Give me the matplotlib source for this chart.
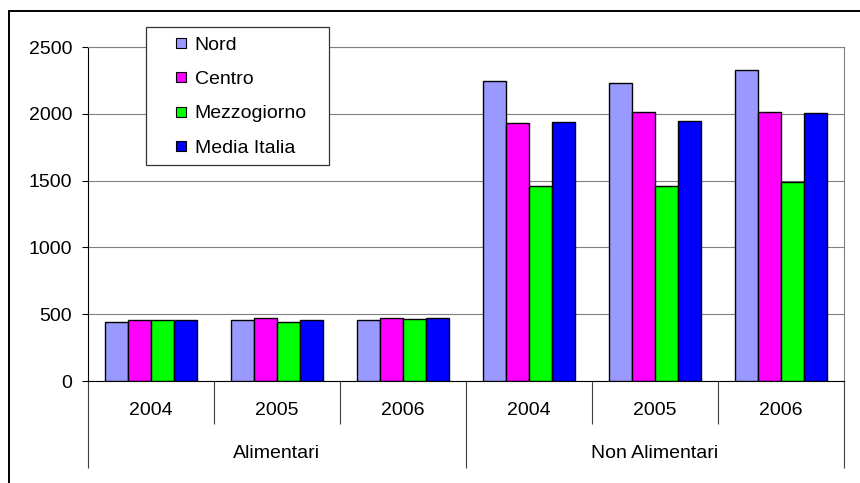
import numpy as np
import matplotlib
matplotlib.use("Agg")
import matplotlib.pyplot as plt
from matplotlib.lines import Line2D
from matplotlib.patches import Rectangle

# values
groups = ["Alimentari", "Non Alimentari"]
years = ["2004", "2005", "2006"]
series_names = ["Nord", "Centro", "Mezzogiorno", "Media Italia"]
nord = [442, 455, 455, 2242, 2230, 2325]
centro = [455, 470, 470, 1932, 2015, 2015]
mezzogiorno = [455, 442, 467, 1458, 1458, 1486]
media_italia = [455, 455, 470, 1935, 1945, 2003]
colors = ["#9999FF", "#FF00FF", "#00FF00", "#0000FF"]

plt.rcParams["font.family"] = ["Liberation Sans", "DejaVu Sans"]
plt.rcParams["font.size"] = 14

fig = plt.figure(figsize=(8.6, 4.83), dpi=100)
ax = fig.add_axes([88 / 860, 1 - 381 / 483, 756 / 860, 334 / 483])

n_cat = len(groups) * len(years)
centers = np.arange(n_cat) + 0.5
bar_w = 23 / 126
all_series = [nord, centro, mezzogiorno, media_italia]
for i, (vals, col) in enumerate(zip(all_series, colors)):
    ax.bar(centers + (i - 1.5) * bar_w, vals, width=bar_w, color=col,
           edgecolor="black", linewidth=1.0, zorder=3)

ax.set_xlim(0, n_cat)
ax.set_ylim(0, 2500)
ax.set_yticks(np.arange(0, 2501, 500))
ax.yaxis.grid(True, color="#808080", linewidth=0.8, zorder=0)
ax.tick_params(axis="y", direction="out", length=4.5, width=0.8, pad=7)

for side in ["top", "right"]:
    ax.spines[side].set_color("#808080")
    ax.spines[side].set_linewidth(0.8)
for side in ["left", "bottom"]:
    ax.spines[side].set_color("black")
    ax.spines[side].set_linewidth(0.8)

# inner level ticks (year separators)
ax.set_xticks([k for k in range(1, n_cat) if k % len(years) != 0])
ax.tick_params(axis="x", direction="out", length=31, width=0.8,
               color="#404040", labelbottom=False)
# outer level ticks (group separators)
sec = ax.secondary_xaxis("bottom")
sec.spines["bottom"].set_visible(False)
sec.set_xticks(np.arange(0, n_cat + 1, len(years)))
sec.tick_params(axis="x", direction="out", length=62.6, width=0.8,
                color="#404040", labelbottom=False)

trans = ax.get_xaxis_transform()
for k, c in enumerate(centers):
    ax.text(c, -0.087, years[k % len(years)], transform=trans,
            ha="center", va="center")
for g, name in enumerate(groups):
    ax.text(g * len(years) + len(years) / 2, -0.216, name, transform=trans,
            ha="center", va="center")

handles = [Line2D([], [], linestyle="none", marker="s", markersize=6.5,
                  markerfacecolor=c, markeredgecolor="black",
                  markeredgewidth=0.8) for c in colors]
leg_top = 1 - 27.3 / 483
leg = fig.legend(handles, series_names, loc="upper left",
                 bbox_to_anchor=(145.7 / 860, leg_top - 0.3, 183.6 / 860, 0.3),
                 mode="expand", borderaxespad=0, borderpad=0.45,
                 handlelength=2.74, handletextpad=-0.68, labelspacing=0.86,
                 fancybox=False, framealpha=1, edgecolor="#333333")
leg.get_frame().set_linewidth(0.9)

# outer chart frame
fig.patches.append(Rectangle((8.5 / 860, -0.1), 1.2, 1.1 - 11.5 / 483,
                             transform=fig.transFigure, fill=False,
                             edgecolor="black", linewidth=1.4))

fig.savefig("out.png", dpi=100)
